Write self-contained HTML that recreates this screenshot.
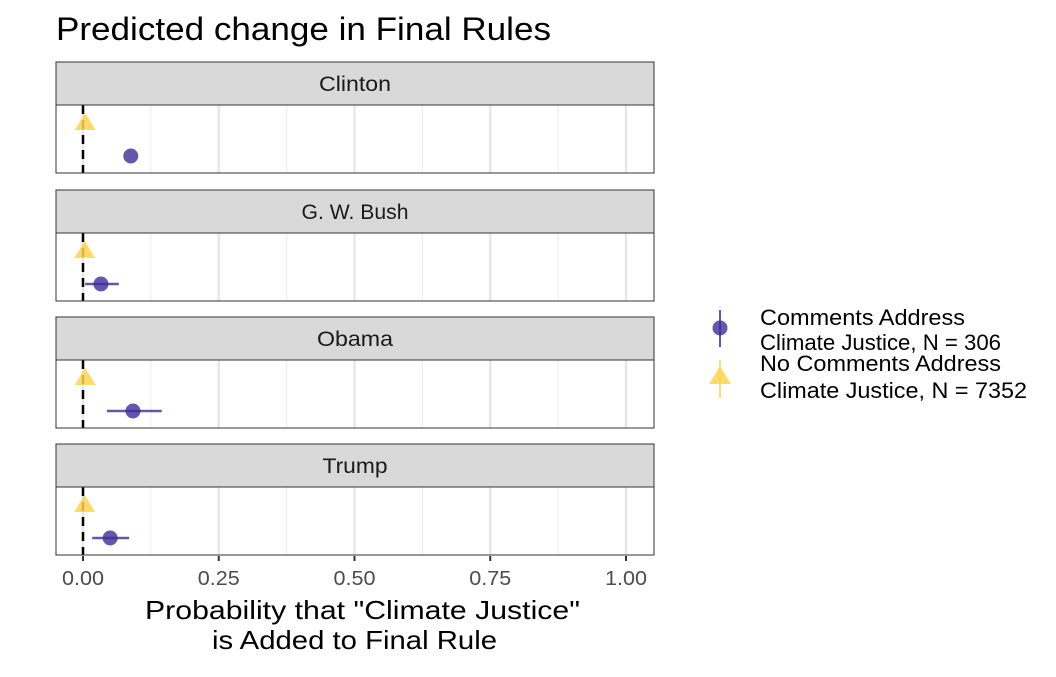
<!DOCTYPE html>
<html><head><meta charset="utf-8"><style>
body{margin:0;background:#fff;font-family:"Liberation Sans",Arial,sans-serif;}
svg text{font-family:"Liberation Sans",Arial,sans-serif;}
</style></head><body>
<svg id="c" width="1056" height="672" xmlns="http://www.w3.org/2000/svg">
<text x="56" y="40" font-size="32" textLength="495" lengthAdjust="spacingAndGlyphs" fill="#000">Predicted change in Final Rules</text>
<g id="panels"></g>
<g>
<line x1="720" y1="310" x2="720" y2="347" stroke="#3d2c98" stroke-opacity="0.8" stroke-width="2"/>
<circle cx="720" cy="328" r="7.5" fill="#3d2c98" fill-opacity="0.8"/>
<text x="760" y="325" font-size="22" textLength="205" lengthAdjust="spacingAndGlyphs">Comments Address</text>
<text x="760" y="350" font-size="22" textLength="241" lengthAdjust="spacingAndGlyphs">Climate Justice, N = 306</text>
<line x1="720" y1="360" x2="720" y2="398" stroke="#ffd34e" stroke-opacity="0.8" stroke-width="2"/>
<polygon points="720,366 731,384 709,384" fill="#ffd34e" fill-opacity="0.85"/>
<text x="760" y="371" font-size="22" textLength="241" lengthAdjust="spacingAndGlyphs">No Comments Address</text>
<text x="760" y="398" font-size="22" textLength="267" lengthAdjust="spacingAndGlyphs">Climate Justice, N = 7352</text>
</g>
<text x="145" y="619" font-size="26" textLength="435" lengthAdjust="spacingAndGlyphs">Probability that "Climate Justice"</text>
<text x="212" y="649" font-size="26" textLength="285" lengthAdjust="spacingAndGlyphs">is Added to Final Rule</text>
</svg>
<script>
const presidents=["Clinton","G. W. Bush","Obama","Trump"];
const commentEst=[0.088,0.033,0.092,0.05];
const commentLo=[0.088,0.004,0.044,0.017];
const commentHi=[0.088,0.066,0.145,0.085];
const noCommentEst=[0.004,0.003,0.004,0.003];
const tickVals=[0,0.25,0.5,0.75,1];
const tickLabels=["0.00","0.25","0.50","0.75","1.00"];
const stripWidths=[72,107,76,65];
const NS="http://www.w3.org/2000/svg";
const x=v=>83+v*543;
const L=56,R=654,strips=[62,190,317,444];
const g=document.getElementById('panels');
function mk(t,a,p){const e=document.createElementNS(NS,t);for(const k in a)e.setAttribute(k,a[k]);(p||g).appendChild(e);return e;}
presidents.forEach((p,i)=>{
 const st=strips[i],top=st+43,bot=top+68;
 const pg=mk('g',{});
 
 
 const s=mk('rect',{x:L,y:st,width:R-L,height:43,fill:'#d9d9d9',stroke:'#333','stroke-width':1},pg);
 
 
 const t=mk('text',{x:(L+R)/2-stripWidths[i]/2,y:st+29,'font-size':21,textLength:stripWidths[i],lengthAdjust:'spacingAndGlyphs',fill:'#1a1a1a'},pg);t.textContent=p;
 
 
 for(let k=0;k<8;k++){const v=k*0.125+0.125;if(v>1)break;mk('line',{x1:x(v),x2:x(v),y1:top,y2:bot,stroke:'#ebebeb','stroke-width':1},pg);}
 tickVals.forEach(v=>mk('line',{x1:x(v),x2:x(v),y1:top,y2:bot,stroke:'#e6e6e6','stroke-width':2.4},pg));
 mk('line',{x1:x(0),x2:x(0),y1:top,y2:bot,stroke:'#000','stroke-width':2.5,'stroke-dasharray':'9,6'},pg);
 const ty=top+18,cy=top+51;
 mk('line',{x1:x(commentLo[i]),x2:x(commentHi[i]),y1:cy,y2:cy,stroke:'#3d2c98','stroke-opacity':0.8,'stroke-width':2.5},pg);
 const c=mk('circle',{cx:x(commentEst[i]),cy:cy,r:7.5,fill:'#3d2c98','fill-opacity':0.8},pg);
 
 
 const xt=x(noCommentEst[i]);
 const tr=mk('polygon',{points:`${xt},${ty-10} ${xt+10.5},${ty+7} ${xt-10.5},${ty+7}`,fill:'#ffd34e','fill-opacity':0.85},pg);
 
 
 mk('rect',{x:L,y:top,width:R-L,height:bot-top,fill:'none',stroke:'#333','stroke-width':1},pg);
});
tickVals.forEach((v,i)=>{
 mk('line',{x1:x(v),x2:x(v),y1:556,y2:561,stroke:'#333','stroke-width':2});
 const t=mk('text',{x:x(v)-21,y:585,'font-size':20,textLength:42,lengthAdjust:'spacingAndGlyphs',fill:'#4d4d4d'});t.textContent=tickLabels[i];
 
 
});
</script>
</body></html>
